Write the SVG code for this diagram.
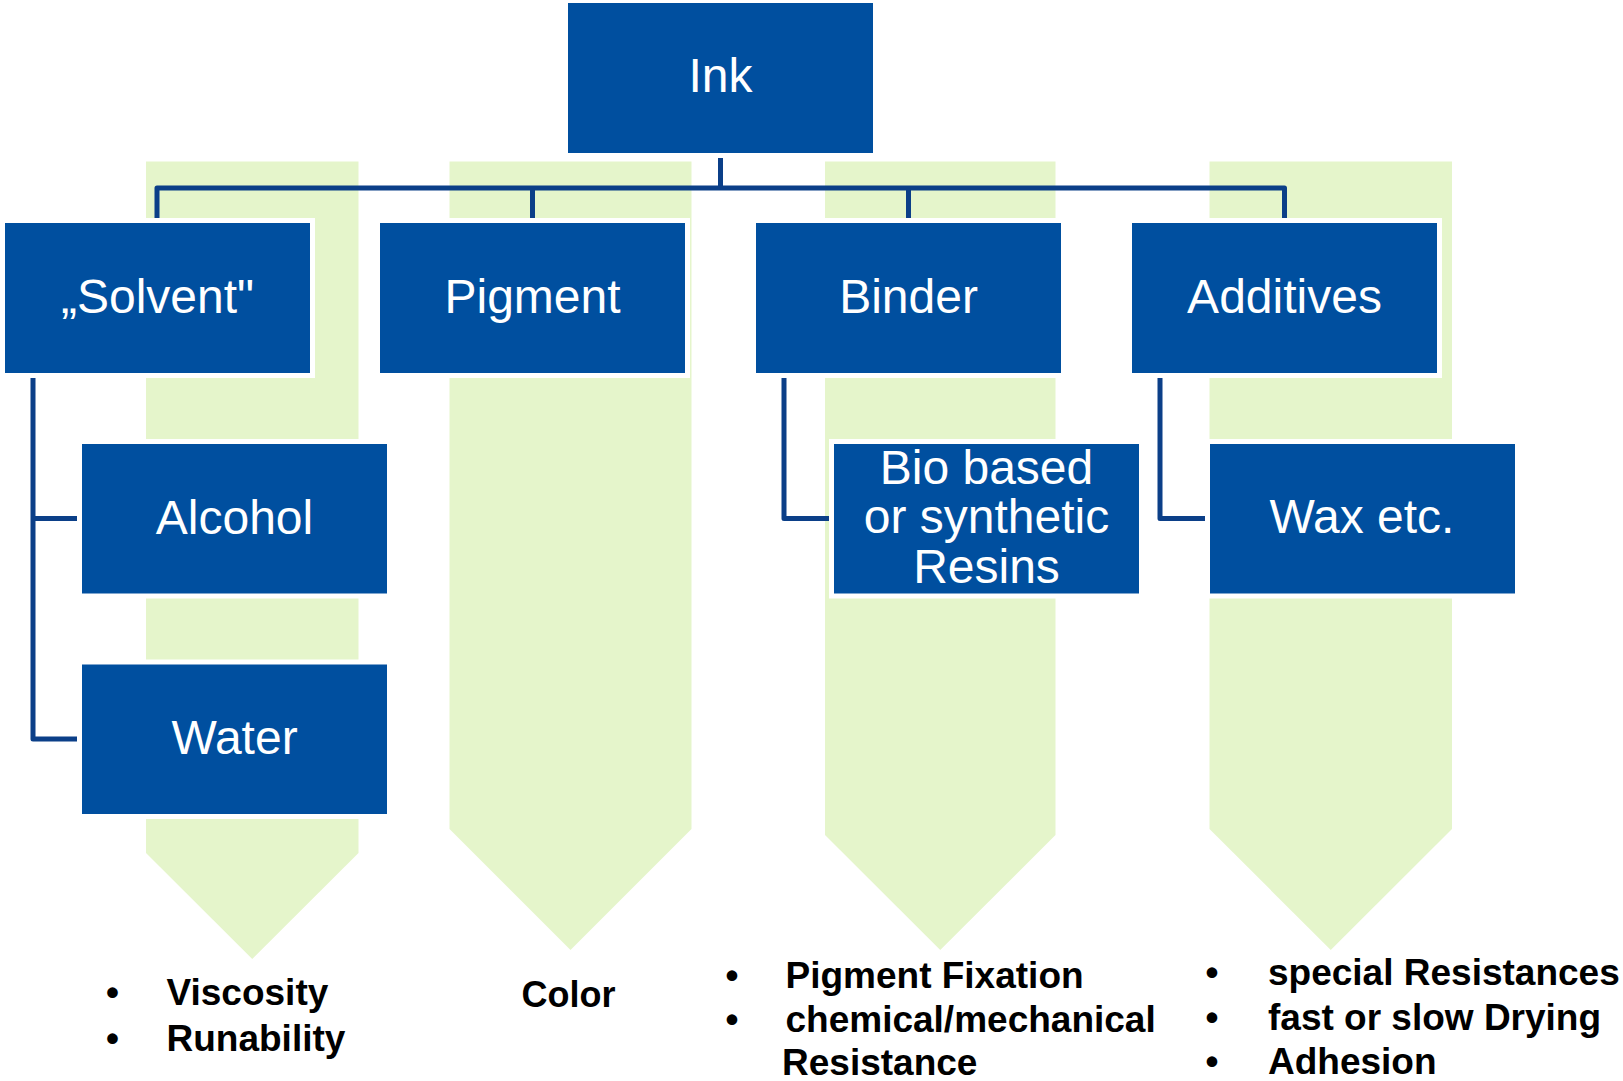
<svg xmlns="http://www.w3.org/2000/svg" width="1623" height="1081" viewBox="0 0 1623 1081">
<style>
.band{fill:#E5F5CB;stroke:none}
.box{fill:#004F9F;stroke:#FFFFFF;stroke-width:10;paint-order:stroke}
.lbl{font-family:"Liberation Sans",Arial,sans-serif;font-size:48px;fill:#FFFFFF;text-anchor:middle}
.conn{fill:none;stroke:#0B3F88;stroke-width:5;stroke-linejoin:round}
.note{font-family:"Liberation Sans",Arial,sans-serif;font-weight:bold;font-size:36px;fill:#000000}
.n37{font-size:37px}
.mid{text-anchor:middle}
</style>
<rect x="0" y="0" width="1623" height="1081" fill="#FFFFFF"/>
<g id="bands">
<polygon class="band" points="146,161.5 358.5,161.5 358.5,853 252.25,959 146,853"/>
<polygon class="band" points="449.5,161.5 691.5,161.5 691.5,829 570.5,950 449.5,829"/>
<polygon class="band" points="825,161.5 1055.5,161.5 1055.5,835 940.25,950 825,835"/>
<polygon class="band" points="1209.5,161.5 1452,161.5 1452,829 1330.75,950 1209.5,829"/>
</g>
<g id="connectors">
<path class="conn" d="M720.5,150 V188"/>
<path class="conn" d="M157,225 V188 H1284.5 V225"/>
<path class="conn" d="M532.5,188 V225"/>
<path class="conn" d="M908.5,188 V225"/>
<path class="conn" d="M33,370 V739 H85"/>
<path class="conn" d="M33,518.5 H85"/>
<path class="conn" d="M784,370 V518.5 H837"/>
<path class="conn" d="M1160,370 V518.5 H1213"/>
</g>
<g id="node-ink">
<rect class="box" x="568" y="3" width="305" height="150"/>
<text class="lbl" x="720.5" y="92">Ink</text>
</g>
<g id="node-solvent">
<rect class="box" x="5" y="223" width="305" height="150"/>
<text class="lbl" x="157.5" y="313">„Solvent"</text>
</g>
<g id="node-pigment">
<rect class="box" x="380" y="223" width="305" height="150"/>
<text class="lbl" x="532.5" y="313">Pigment</text>
</g>
<g id="node-binder">
<rect class="box" x="756" y="223" width="305" height="150"/>
<text class="lbl" x="908.5" y="313">Binder</text>
</g>
<g id="node-additives">
<rect class="box" x="1132" y="223" width="305" height="150"/>
<text class="lbl" x="1284.5" y="313">Additives</text>
</g>
<g id="node-alcohol">
<rect class="box" x="82" y="444" width="305" height="149.5"/>
<text class="lbl" x="234.5" y="533.5">Alcohol</text>
</g>
<g id="node-water">
<rect class="box" x="82" y="664.5" width="305" height="149.5"/>
<text class="lbl" x="234.5" y="754">Water</text>
</g>
<g id="node-resins">
<rect class="box" x="834" y="444" width="305" height="149.5"/>
<text class="lbl" x="986.5" y="483.5">Bio based</text>
<text class="lbl" x="986.5" y="533">or synthetic</text>
<text class="lbl" x="986.5" y="582.5">Resins</text>
</g>
<g id="node-wax">
<rect class="box" x="1210" y="444" width="305" height="149.5"/>
<text class="lbl" x="1362" y="533">Wax etc.</text>
</g>
<g id="notes-solvent">
<text class="note n37 mid" x="112.5" y="1005">•</text>
<text class="note n37" x="166.5" y="1005">Viscosity</text>
<text class="note n37 mid" x="112.5" y="1050.5">•</text>
<text class="note n37" x="166.5" y="1050.5">Runability</text>
</g>
<g id="notes-pigment">
<text class="note mid" x="568.5" y="1006.5">Color</text>
</g>
<g id="notes-binder">
<text class="note n37 mid" x="732" y="988.3">•</text>
<text class="note n37" x="785.5" y="988.3">Pigment Fixation</text>
<text class="note n37 mid" x="732" y="1031.7">•</text>
<text class="note n37" x="785.5" y="1031.7">chemical/mechanical</text>
<text class="note n37" x="782" y="1075">Resistance</text>
</g>
<g id="notes-additives">
<text class="note n37 mid" x="1212" y="985">•</text>
<text class="note n37" x="1268" y="985">special Resistances</text>
<text class="note n37 mid" x="1212" y="1030">•</text>
<text class="note n37" x="1268" y="1030">fast or slow Drying</text>
<text class="note n37 mid" x="1212" y="1074">•</text>
<text class="note n37" x="1268" y="1074">Adhesion</text>
</g>
</svg>
